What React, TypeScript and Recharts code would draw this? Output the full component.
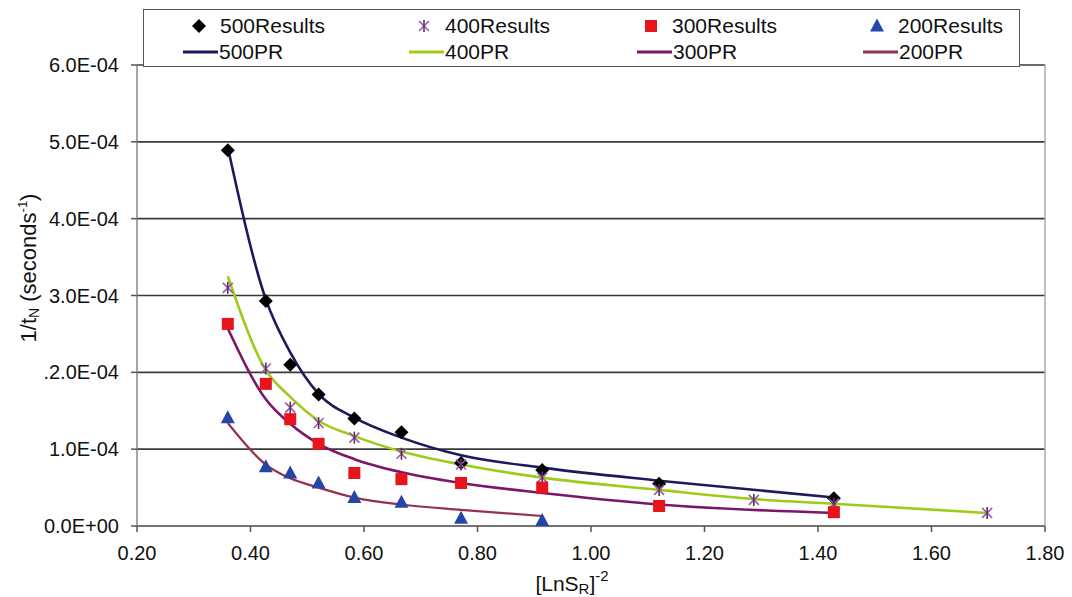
import React from 'react';
import { ComposedChart, Scatter, Line, XAxis, YAxis, CartesianGrid, ReferenceLine } from 'recharts';

// x positions ([LnS_R]^-2) for each test group
const x500 = [0.36, 0.427, 0.47, 0.52, 0.583, 0.666, 0.771, 0.914, 1.12, 1.428];
const x400 = [0.36, 0.427, 0.47, 0.52, 0.583, 0.666, 0.771, 0.914, 1.12, 1.287, 1.428, 1.698];
const x300 = [0.36, 0.427, 0.47, 0.52, 0.583, 0.666, 0.771, 0.914, 1.12, 1.428];
const x200 = [0.36, 0.427, 0.47, 0.52, 0.583, 0.666, 0.771, 0.914];

// measured results (1/tN, in units of 1E-04)
const res500 = [4.89, 2.93, 2.1, 1.71, 1.4, 1.22, 0.82, 0.73, 0.55, 0.36];
const res400 = [3.1, 2.05, 1.54, 1.34, 1.15, 0.94, 0.8, 0.63, 0.47, 0.34, 0.29, 0.17];
const res300 = [2.63, 1.85, 1.39, 1.07, 0.69, 0.61, 0.56, 0.5, 0.26, 0.18];
const res200 = [1.41, 0.77, 0.69, 0.56, 0.37, 0.31, 0.1, 0.07];

// predicted curves (PR)
const pr500 = [4.93, 2.95, 2.26, 1.72, 1.41, 1.15, 0.92, 0.76, 0.59, 0.37];
const pr400 = [3.25, 2.03, 1.68, 1.37, 1.17, 0.97, 0.8, 0.63, 0.47, 0.35, 0.29, 0.17];
const pr300 = [2.57, 1.65, 1.33, 1.07, 0.87, 0.7, 0.56, 0.43, 0.28, 0.17];
const pr200 = [1.34, 0.8, 0.62, 0.5, 0.37, 0.28, 0.21, 0.13];

const xTicks = [0.2, 0.4, 0.6, 0.8, 1.0, 1.2, 1.4, 1.6, 1.8];
const yTicks = [0, 1e-4, 2e-4, 3e-4, 4e-4, 5e-4, 6e-4];
const yTickLabels = ['0.0E+00', '1.0E-04', '.2.0E-04', '3.0E-04', '4.0E-04', '5.0E-04', '6.0E-04'];

const toPoints = (xs: number[], ys: number[]) => xs.map((x, i) => ({ x, y: ys[i] * 1e-4 }));

const FONT = 'Arial, "Liberation Sans", sans-serif';

const C500 = '#1b1b5c';
const C400 = '#9ccb19';
const C300 = '#7b1668';
const C200 = '#943150';
const M400 = '#9a5aa8';
const M300 = '#e8141c';
const M200 = '#2546a6';

// marker shapes
const Diamond = (p: any) => {
  const { cx, cy } = p;
  const r = 7;
  return <path d={`M${cx},${cy - r}L${cx + r},${cy}L${cx},${cy + r}L${cx - r},${cy}Z`} fill="#000" />;
};
const Star = (p: any) => {
  const { cx, cy } = p;
  const r = 5;
  return (
    <g stroke={M400} strokeWidth={1.6}>
      <line x1={cx - r} y1={cy - r} x2={cx + r} y2={cy + r} />
      <line x1={cx + r} y1={cy - r} x2={cx - r} y2={cy + r} />
      <line x1={cx} y1={cy - r - 1} x2={cx} y2={cy + r + 1} stroke="#5a3060" />
    </g>
  );
};
const Square = (p: any) => {
  const { cx, cy } = p;
  return <rect x={cx - 6} y={cy - 6} width={12} height={12} fill={M300} />;
};
const Triangle = (p: any) => {
  const { cx, cy } = p;
  return <path d={`M${cx},${cy - 7.5}L${cx + 7},${cy + 5.5}L${cx - 7},${cy + 5.5}Z`} fill={M200} />;
};

const legendItems = [
  { label: '500Results', kind: 'diamond', x: 186, y: 13 },
  { label: '400Results', kind: 'star', x: 411, y: 13 },
  { label: '300Results', kind: 'square', x: 638, y: 13 },
  { label: '200Results', kind: 'triangle', x: 864, y: 13 },
  { label: '500PR', kind: 'line', color: C500, x: 180, y: 39 },
  { label: '400PR', kind: 'line', color: C400, x: 406, y: 39 },
  { label: '300PR', kind: 'line', color: C300, x: 634, y: 39 },
  { label: '200PR', kind: 'line', color: C200, x: 860, y: 39 },
];

function LegendIcon({ kind, color }: { kind: string; color?: string }) {
  if (kind === 'line') {
    return (
      <svg width={38} height={24}>
        <line x1={2} y1={12} x2={37} y2={12} stroke={color} strokeWidth={3} />
      </svg>
    );
  }
  const p = { cx: 12, cy: 12 };
  return (
    <svg width={24} height={24}>
      {kind === 'diamond' && <Diamond {...p} />}
      {kind === 'star' && <Star {...p} />}
      {kind === 'square' && <Square {...p} />}
      {kind === 'triangle' && <Triangle {...p} />}
    </svg>
  );
}

function ChartLegend() {
  return (
    <div
      style={{
        position: 'absolute',
        left: 143,
        top: 9,
        width: 877,
        height: 58,
        border: '1.5px solid #555',
        background: '#fff',
        boxSizing: 'border-box',
      }}
    >
      {legendItems.map((it) => (
        <div
          key={it.label}
          style={{
            position: 'absolute',
            left: it.x - 143,
            top: it.y - 9,
            display: 'flex',
            alignItems: 'center',
            fontFamily: FONT,
            fontSize: 21,
            color: '#111',
            height: 24,
            whiteSpace: 'nowrap',
          }}
        >
          <LegendIcon kind={it.kind} color={(it as any).color} />
          <span style={{ marginLeft: it.kind === 'line' ? 0 : 9 }}>{it.label}</span>
        </div>
      ))}
    </div>
  );
}

export default function App() {
  return (
    <div style={{ position: 'absolute', left: 0, top: 0, width: 1072, height: 597, background: '#fff' }}>
      <ComposedChart width={1072} height={597} margin={{ top: 65, right: 27, left: 0, bottom: 0 }}>
        <CartesianGrid vertical={false} horizontal={true} stroke="#3a3a3a" strokeWidth={1.6} horizontalValues={yTicks} />
        <XAxis
          type="number"
          dataKey="x"
          domain={[0.2, 1.8]}
          ticks={xTicks}
          allowDataOverflow
          height={71}
          stroke="#777"
          strokeWidth={1.5}
          tickLine={{ stroke: '#555' }}
          tickSize={6}
          tickMargin={14}
          tick={{ fill: '#111', fontSize: 20, fontFamily: FONT }}
          tickFormatter={(v: number) => v.toFixed(2)}
          label={{
            value: '[LnS',
            content: () => (
              <text x={572} y={591} textAnchor="middle" fontFamily={FONT} fontSize={21} fill="#111">
                [LnS<tspan fontSize={15} dy={3}>R</tspan>
                <tspan dy={-3}>]</tspan>
                <tspan fontSize={15} dy={-10}>-2</tspan>
              </text>
            ),
          }}
        />
        <YAxis
          type="number"
          dataKey="y"
          domain={[0, 6e-4]}
          ticks={yTicks}
          width={137}
          stroke="#888"
          strokeWidth={1.5}
          tickLine={{ stroke: '#555' }}
          tickSize={6}
          tickMargin={12}
          tick={{ fill: '#111', fontSize: 20, fontFamily: FONT }}
          tickFormatter={(v: number, i: number) => yTickLabels[i]}
          label={{
            value: '1/tN',
            content: () => (
              <text
                x={36}
                y={268}
                transform="rotate(-90 36 268)"
                textAnchor="middle"
                fontFamily={FONT}
                fontSize={22}
                fill="#111"
              >
                1/t<tspan fontSize={14} dy={3}>N</tspan>
                <tspan dy={-3}> (seconds</tspan>
                <tspan fontSize={13} dy={-9}>-1</tspan>
                <tspan dy={9}>)</tspan>
              </text>
            ),
          }}
        />
        <ReferenceLine x={1.8} stroke="#aaa" strokeWidth={1.5} />

        <Scatter name="500Results" data={toPoints(x500, res500)} dataKey="y" shape={Diamond} isAnimationActive={false} />
        <Scatter name="400Results" data={toPoints(x400, res400)} dataKey="y" shape={Star} isAnimationActive={false} />
        <Scatter name="300Results" data={toPoints(x300, res300)} dataKey="y" shape={Square} isAnimationActive={false} />
        <Scatter name="200Results" data={toPoints(x200, res200)} dataKey="y" shape={Triangle} isAnimationActive={false} />

        <Line name="500PR" data={toPoints(x500, pr500)} dataKey="y" type="monotone" stroke={C500} strokeWidth={2.6} dot={false} isAnimationActive={false} />
        <Line name="400PR" data={toPoints(x400, pr400)} dataKey="y" type="monotone" stroke={C400} strokeWidth={2.6} dot={false} isAnimationActive={false} />
        <Line name="300PR" data={toPoints(x300, pr300)} dataKey="y" type="monotone" stroke={C300} strokeWidth={2.6} dot={false} isAnimationActive={false} />
        <Line name="200PR" data={toPoints(x200, pr200)} dataKey="y" type="monotone" stroke={C200} strokeWidth={2.2} dot={false} isAnimationActive={false} />
      </ComposedChart>
      <ChartLegend />
    </div>
  );
}
